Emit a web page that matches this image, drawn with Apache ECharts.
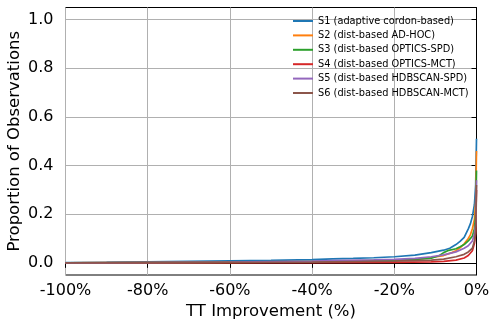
<!DOCTYPE html>
<html><head><meta charset="utf-8">
<script src="https://cdn.jsdelivr.net/npm/echarts@6/dist/echarts.min.js"></script>
<style>html,body{margin:0;padding:0;background:#fff}#c{width:489px;height:326px}</style>
</head><body><div id="c"></div>
<script>
const seriesNames = ['S1 (adaptive cordon-based)','S2 (dist-based AD-HOC)','S3 (dist-based OPTICS-SPD)','S4 (dist-based OPTICS-MCT)','S5 (dist-based HDBSCAN-SPD)','S6 (dist-based HDBSCAN-MCT)'];
const colors = ['#1f77b4','#ff7f0e','#2ca02c','#d62728','#9467bd','#8c564b'];
const xTicks = [-100,-80,-60,-40,-20,0];
const yTicks = [0,0.2,0.4,0.6,0.8,1.0];

const s1x = [-100,-90,-80,-70,-60,-50,-40,-35,-30,-25,-20,-15,-11,-8,-6.5,-5,-4,-3,-2,-1.5,-1,-0.5,-0.2,0];
const s1y = [0.001,0.002,0.004,0.006,0.008,0.010,0.013,0.016,0.018,0.021,0.025,0.032,0.042,0.052,0.060,0.075,0.088,0.105,0.14,0.16,0.19,0.24,0.32,0.51];
const s2x = [-100,-60,-40,-30,-20,-15,-11,-8,-6,-5,-4,-3,-2,-1.5,-1,-0.5,-0.2,0];
const s2y = [0,0.002,0.004,0.006,0.010,0.014,0.022,0.030,0.042,0.050,0.062,0.078,0.100,0.115,0.140,0.180,0.250,0.46];
const s3x = [-100,-60,-40,-30,-20,-15,-11,-9,-8,-7,-5,-4,-3,-2,-1,-0.5,-0.2,0];
const s3y = [0,0.003,0.006,0.008,0.011,0.014,0.019,0.030,0.042,0.050,0.058,0.066,0.075,0.090,0.110,0.140,0.200,0.38];
const s4x = [-100,-60,-40,-20,-11,-8,-5,-3,-2,-1,-0.5,-0.2,0];
const s4y = [0,0.001,0.001,0.002,0.004,0.006,0.011,0.020,0.030,0.050,0.080,0.120,0.30];
const s5x = [-100,-60,-40,-35,-25,-20,-15,-11,-8,-5,-3,-2,-1,-0.5,-0.2,0];
const s5y = [0,0.003,0.007,0.009,0.012,0.014,0.018,0.025,0.033,0.045,0.060,0.070,0.090,0.120,0.160,0.34];
const s6x = [-100,-60,-40,-20,-11,-8,-5,-3,-2,-1,-0.5,-0.2,0];
const s6y = [0,0.002,0.003,0.007,0.011,0.015,0.025,0.035,0.045,0.060,0.090,0.130,0.32];

const xs = [s1x,s2x,s3x,s4x,s5x,s6x];
const ys = [s1y,s2y,s3y,s4y,s5y,s6y];
const FONT = 'DejaVu Sans';

const chart = echarts.init(document.getElementById('c'));
chart.setOption({
  animation: false,
  backgroundColor: '#fff',
  color: colors,
  grid: {left: 65.5, right: 12.5, top: 7.5, bottom: 51, containLabel: false, outerBoundsMode: 'none', show: true, borderColor: '#000', borderWidth: 1, backgroundColor: 'transparent'},
  legend: {
    orient: 'vertical', left: 288, top: 10,
    icon: 'rect', itemWidth: 20, itemHeight: 2, itemGap: 2.4,
    textStyle: {fontFamily: FONT, fontSize: 9.8, color: '#000', lineHeight: 12},
    data: seriesNames
  },
  xAxis: {
    type: 'value', min: -100, max: 0, interval: 20,
    name: 'TT Improvement (%)', nameLocation: 'middle', nameGap: 28, nameMoveOverlap: false,
    nameTextStyle: {fontFamily: FONT, fontSize: 16.5, color: '#000'},
    axisLine: {show: true, lineStyle: {color: '#000', width: 1}},
    axisTick: {show: true, inside: false, length: 5, lineStyle: {color: '#000'}},
    axisLabel: {fontFamily: FONT, fontSize: 16, color: '#000', margin: 8, formatter: v => v + '%'},
    splitLine: {show: true, lineStyle: {color: '#b0b0b0', width: 1}}
  },
  yAxis: {
    type: 'value', min: -0.05, max: 1.05,
    name: 'Proportion of Observations', nameLocation: 'middle', nameGap: 42, nameMoveOverlap: false,
    nameTextStyle: {fontFamily: FONT, fontSize: 16.5, color: '#000'},
    axisLine: {show: true, lineStyle: {color: '#000', width: 1}},
    axisTick: {show: true, inside: false, length: 5, lineStyle: {color: '#000'}, customValues: yTicks},
    axisLabel: {fontFamily: FONT, fontSize: 16, color: '#000', margin: 12, customValues: yTicks, formatter: v => v.toFixed(1)},
    splitLine: {show: true, lineStyle: {color: '#b0b0b0', width: 1}}
  },
  series: seriesNames.map((n, i) => ({
    name: n, type: 'line', showSymbol: false, symbol: 'none', clip: true,
    lineStyle: {width: 1.7, color: colors[i]},
    itemStyle: {color: colors[i]},
    data: xs[i].map((x, j) => [x, ys[i][j]])
  }))
});
</script></body></html>
